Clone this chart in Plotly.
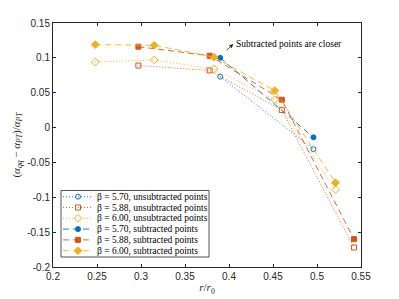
import plotly.graph_objects as go

# ---- data ----
x_570 = [0.390, 0.496]
unsub_570 = [0.073, -0.031]
sub_570 = [0.100, -0.014]

x_588 = [0.297, 0.378, 0.460, 0.542]
unsub_588 = [0.089, 0.082, 0.025, -0.172]
sub_588 = [0.116, 0.103, 0.040, -0.160]

x_600 = [0.248, 0.315, 0.383, 0.452, 0.521]
unsub_600 = [0.094, 0.097, 0.084, 0.040, -0.089]
sub_600 = [0.119, 0.118, 0.101, 0.053, -0.079]

legend_labels = [
    "β = 5.70, unsubtracted points",
    "β = 5.88, unsubtracted points",
    "β = 6.00, unsubtracted points",
    "β = 5.70, subtracted points",
    "β = 5.88, subtracted points",
    "β = 6.00, subtracted points",
]
x_ticks = [0.2, 0.25, 0.3, 0.35, 0.4, 0.45, 0.5, 0.55]
y_ticks = [-0.2, -0.15, -0.1, -0.05, 0, 0.05, 0.1, 0.15]
y_ticklabels = ["-0.2", "-0.15", "-0.1", "-0.05", "0", "0.05", "0.1", "0.15"]
annotation_text = "Subtracted points are closer"

BLUE = "#0072BD"
ORANGE = "#D95319"
YELLOW = "#EDB120"
AXC = "#262626"
SERIF = "Liberation Serif, DejaVu Serif, serif"
SANS = "Liberation Sans, Arial, sans-serif"
DOT = "1px,2px"
DASH = "6px,4px"

series = [
    (x_570, unsub_570, BLUE, "circle-open", DOT, 5),
    (x_588, unsub_588, ORANGE, "square-open", DOT, 5),
    (x_600, unsub_600, YELLOW, "diamond-open", DOT, 6),
    (x_570, sub_570, BLUE, "circle", DASH, 5),
    (x_588, sub_588, ORANGE, "square", DASH, 5),
    (x_600, sub_600, YELLOW, "diamond", DASH, 6),
]

fig = go.Figure()
for (xs, ys, c, sym, dash, sz), name in zip(series, legend_labels):
    fig.add_trace(go.Scatter(
        x=xs, y=ys, mode="lines+markers", name=name, showlegend=False,
        line=dict(color=c, width=0.9, dash=dash),
        marker=dict(symbol=sym, size=sz, color=c, line=dict(color=c, width=1)),
    ))

# ---- custom legend (paper-like overlay axes) ----
W, H = 399, 299
L, R, T, B = 53, 38, 23, 32
pw, ph = W - L - R, H - T - B
def px(x):
    return (x - L) / pw
def py(y):
    return (H - B - y) / ph

row_y = [196.7, 207.5, 218.3, 229.1, 239.9, 250.7]
for (xs, ys, c, sym, dash, sz), name, ry in zip(series, legend_labels, row_y):
    fig.add_trace(go.Scatter(
        x=[px(63), px(78), px(93)], y=[py(ry)] * 3, xaxis="x2", yaxis="y2",
        mode="lines+markers", showlegend=False, hoverinfo="skip",
        line=dict(color=c, width=0.9, dash=dash),
        marker=dict(symbol=sym, size=sz, color=c, opacity=[0, 1, 0],
                    line=dict(color=c, width=1)),
    ))
    fig.add_annotation(x=px(95), y=py(ry), xref="paper", yref="paper",
                       text=name, showarrow=False, xanchor="left", yanchor="middle",
                       font=dict(family=SERIF, size=9.5, color="black"))

fig.add_shape(type="rect", xref="paper", yref="paper",
              x0=px(61), x1=px(209), y0=py(257), y1=py(190.5),
              line=dict(color=AXC, width=0.8), fillcolor="rgba(255,255,255,0)")

# ---- annotation ----
fig.add_annotation(x=0.4049, y=0.1199, ax=0.3955, ay=0.1088,
                   xref="x", yref="y", axref="x", ayref="y",
                   text="", showarrow=True, arrowhead=2, arrowsize=1,
                   arrowwidth=0.8, arrowcolor="#262626")
fig.add_annotation(x=0.4055, y=0.1205, xref="x", yref="y", text=annotation_text,
                   showarrow=False, xanchor="left", yanchor="middle",
                   font=dict(family=SERIF, size=9.5, color="black"))

axis_common = dict(
    showgrid=False, zeroline=False, showline=True, linecolor=AXC, linewidth=1,
    mirror="ticks", ticks="inside", ticklen=3, tickcolor=AXC, tickwidth=1,
    tickfont=dict(family=SANS, size=10, color=AXC), automargin=False,
)
fig.update_layout(
    width=W, height=H, margin=dict(l=L, r=R, t=T, b=B),
    plot_bgcolor="white", paper_bgcolor="white",
    xaxis=dict(range=[0.2, 0.55], tickvals=x_ticks,
               ticktext=[f"{v:g}" for v in x_ticks],
               title=dict(text="<i>r</i>/<i>r</i><sub>0</sub>", standoff=2,
                          font=dict(family=SERIF, size=11, color=AXC)),
               **axis_common),
    yaxis=dict(range=[-0.2, 0.15], tickvals=y_ticks, ticktext=y_ticklabels,
               title=dict(text="(<i>α</i><sub><i>qq</i></sub> − <i>α</i><sub><i>PT</i></sub>)/<i>α</i><sub><i>PT</i></sub>",
                          standoff=4, font=dict(family=SERIF, size=11, color=AXC)),
               **axis_common),
    xaxis2=dict(range=[0, 1], overlaying="x", visible=False, fixedrange=True),
    yaxis2=dict(range=[0, 1], overlaying="y", visible=False, fixedrange=True),
    showlegend=False,
)
fig.write_html("out.html", config={"displayModeBar": False},
               post_script="document.body.style.margin='0';")
